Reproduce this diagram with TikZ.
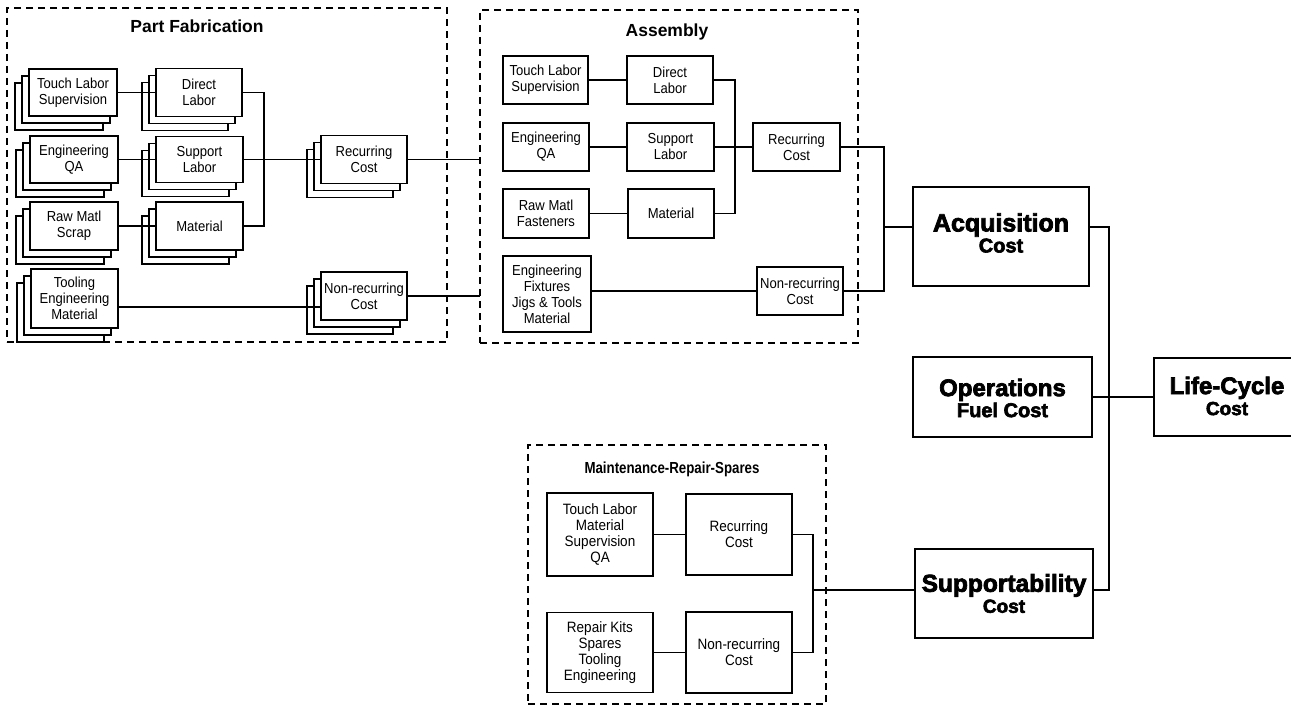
\documentclass[tikz,border=0pt]{standalone}
\usepackage{fontspec}
\setmainfont{Liberation Sans}
\newfontfamily\lab[FakeStretch=0.9]{Liberation Sans}
\newfontfamily\tit[FakeStretch=0.83]{Liberation Sans}
\newfontfamily\heavy[BoldFeatures={FakeBold=3}]{Liberation Sans}
\usetikzlibrary{backgrounds,calc}
\newcommand\stk[1]{\begin{scope}[on background layer]
 \foreach \s in {14,7}{\draw[line width=1.6pt, fill=white] ([xshift=-\s pt,yshift=-\s pt]#1.north west) rectangle ([xshift=-\s pt,yshift=-\s pt]#1.south east);}
 \end{scope}}
\begin{document}
\begin{tikzpicture}[x=1pt,y=-1pt,
  box/.style={draw, line width=1.6pt, fill=white, align=center, inner sep=0pt, outer sep=0pt, font=\lab\fontsize{14.5}{16}\selectfont},
  mbox/.style={box, minimum width=106pt, minimum height=82pt, font=\lab\fontsize{15}{16}\selectfont},
  conn/.style={line width=1.6pt},
  frame/.style={draw, line width=1.8pt, dash pattern=on 7pt off 5pt, inner sep=0pt, outer sep=0pt},
  big/.style={draw, line width=1.6pt, fill=white, inner sep=0pt, outer sep=0pt},
  bigtext/.style={align=center, inner sep=0pt, font=\heavy\bfseries\fontsize{20}{21}\selectfont},
  ttl/.style={font=\bfseries\fontsize{17.5}{18}\selectfont, inner sep=0pt}]

\useasboundingbox (0,0) rectangle (1291,706);

% ---------- frames ----------
\node[frame, minimum width=440pt, minimum height=334pt] (pff) at (227,175) {};
\node[frame, minimum width=378pt, minimum height=333pt] (asf) at (669,176.5) {};
\node[frame, minimum width=298pt, minimum height=259pt] (mf) at (677,574.5) {};
\node[ttl] (pft) at (197,26) {Part Fabrication};
\node[ttl] (ast) at (667,32) {Assembly};
\node[inner sep=0pt, font=\tit\bfseries\fontsize{16}{17}\selectfont] (mt) at (672,469) {Maintenance-Repair-Spares};

% ---------- Part Fabrication ----------
\node[box, minimum width=88pt, minimum height=47pt] (pf1) at (73,92.5) {Touch Labor\\Supervision};
\node[box, minimum width=86pt, minimum height=48pt] (pf2) at (199,92.5) {Direct\\Labor};
\node[box, minimum width=88pt, minimum height=47pt] (pf3) at (74,159.5) {Engineering\\QA};
\node[box, minimum width=87pt, minimum height=46pt] (pf4) at (199.5,159.5) {Support\\Labor};
\node[box, minimum width=88pt, minimum height=48pt] (pf5) at (74,226) {Raw Matl\\Scrap};
\node[box, minimum width=87pt, minimum height=48pt] (pf6) at (199.5,226) {Material};
\node[box, minimum width=87pt, minimum height=59pt] (pf7) at (74.5,298.5) {Tooling\\Engineering\\Material};
\node[box, minimum width=86pt, minimum height=48pt] (pfr) at (364,159.5) {Recurring\\Cost};
\node[box, minimum width=86pt, minimum height=48pt] (pfn) at (364,296) {Non-recurring\\Cost};
\stk{pf1}\stk{pf2}\stk{pf3}\stk{pf4}\stk{pf5}\stk{pf6}\stk{pf7}\stk{pfr}\stk{pfn}
\coordinate (pfb) at (264,0);
\draw[conn] (pf1.east) -- (pf2.west);
\draw[conn] (pf3.east) -- (pf4.west);
\draw[conn] (pf5.east) -- (pf6.west);
\draw[conn] (pf2.east) -| (pfb |- pf6.east) -- (pf6.east);
\draw[conn] (pf4.east) -- (pfr.west);
\draw[conn] ([yshift=-8.5pt]pf7.east) -- ([yshift=-8.5pt]pf7.east -| pfn.west);
\draw[conn] (pfr.east) -- (pfr.east -| asf.west);
\draw[conn] (pfn.east) -- (pfn.east -| asf.west);

% ---------- Assembly ----------
\node[box, minimum width=85pt, minimum height=48pt] (a1) at (545.5,80) {Touch Labor\\Supervision};
\node[box, minimum width=86pt, minimum height=48pt] (a2) at (670,80) {Direct\\Labor};
\node[box, minimum width=86pt, minimum height=48pt] (a3) at (546,147) {Engineering\\QA};
\node[box, minimum width=87pt, minimum height=48pt] (a4) at (670.5,147) {Support\\Labor};
\node[box, minimum width=86pt, minimum height=49pt] (a5) at (546,213.5) {Raw Matl\\Fasteners};
\node[box, minimum width=86pt, minimum height=49pt] (a6) at (671,213.5) {Material};
\node[box, minimum width=88pt, minimum height=76pt] (a7) at (547,294) {Engineering\\Fixtures\\Jigs \& Tools\\Material};
\node[box, minimum width=87pt, minimum height=48pt] (ar) at (796.5,147) {Recurring\\Cost};
\node[box, minimum width=86pt, minimum height=48pt] (an) at (800,291) {Non-recurring\\Cost};
\coordinate (ab) at (735,0);
\coordinate (ob) at (884,0);
\draw[conn] (a1.east) -- (a2.west);
\draw[conn] (a3.east) -- (a4.west);
\draw[conn] (a5.east) -- (a6.west);
\draw[conn] (a2.east) -| (ab |- a6.east) -- (a6.east);
\draw[conn] (a4.east) -- (ar.west);
\draw[conn] ([yshift=3pt]a7.east) -- (an.west);
\draw[conn] (ar.east) -| (ob |- an.east) -- (an.east);

% ---------- Top level ----------
\node[big, minimum width=176pt, minimum height=99pt] (acq) at (1001,236.5) {};
\node[bigtext] (acqt) at ([yshift=3.5pt]acq.center) {{\fontsize{25}{25}\selectfont Acquisition}\\Cost};
\node[big, minimum width=179pt, minimum height=80pt] (ops) at (1002.5,397) {};
\node[bigtext] (opst) at ([yshift=-1pt]ops.center) {{\fontsize{24}{24}\selectfont Operations}\\Fuel Cost};
\node[big, minimum width=178pt, minimum height=89pt] (sup) at (1004,593.5) {};
\node[bigtext] (supt) at (sup.center) {{\fontsize{24.5}{25}\selectfont Supportability}\\\fontsize{19}{19}\selectfont Cost};
\node[big, minimum width=144pt, minimum height=78pt] (lc) at (1226,397) {};
\node[bigtext] (lct) at ([xshift=1pt,yshift=1pt]lc.center) {{\fontsize{24}{24}\selectfont Life-Cycle}\\\fontsize{19}{19}\selectfont Cost};
\coordinate (rb) at (1109,0);
\coordinate (acqin) at ([yshift=9.5pt]acq.west);
\coordinate (acqout) at ([yshift=9.5pt]acq.east);
\coordinate (supin) at ([yshift=3.5pt]sup.west);
\coordinate (supout) at ([yshift=3.5pt]sup.east);
\draw[conn] (ob |- acqin) -- (acqin);
\draw[conn] (acqout) -| (rb |- supout) -- (supout);
\draw[conn] (ops.east) -- (lc.west);

% ---------- Maintenance ----------
\node[mbox, minimum height=83pt] (m1) at (600,534.5) {Touch Labor\\Material\\Supervision\\QA};
\node[mbox, minimum height=81pt] (mr) at (739,534.5) {Recurring\\Cost};
\node[mbox, minimum height=80pt] (m2) at (600,652.5) {Repair Kits\\Spares\\Tooling\\Engineering};
\node[mbox, minimum height=81pt] (mn) at (739,652.5) {Non-recurring\\Cost};
\coordinate (mb) at (813,0);
\draw[conn] (m1.east) -- (mr.west);
\draw[conn] (m2.east) -- (mn.west);
\draw[conn] (mr.east) -| (mb |- mn.east) -- (mn.east);
\draw[conn] (mb |- supin) -- (supin);
\end{tikzpicture}
\end{document}
